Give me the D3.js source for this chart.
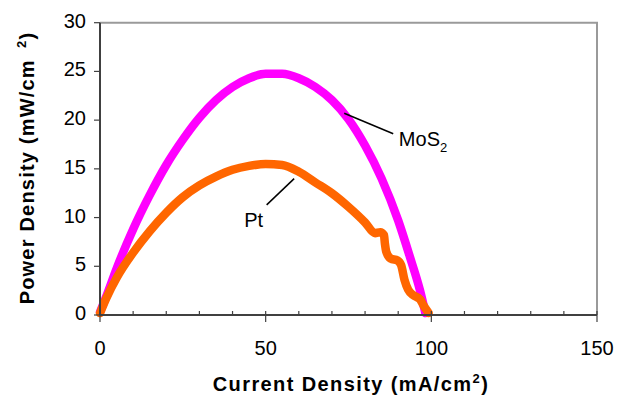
<!DOCTYPE html>
<html>
<head>
<meta charset="utf-8">
<script src="https://cdn.jsdelivr.net/npm/d3@7"></script>
<style>
  body { margin: 0; background: #fff; }
  svg { font-family: "Liberation Sans", Arial, sans-serif; }
</style>
</head>
<body>
<figure id="pdChart" style="margin:0"></figure>
<script>
// values
const mos2Current = [0, 2, 5, 10, 15, 20, 25, 30, 35, 40, 45, 50, 55, 60, 65, 70, 75, 80, 85, 90, 93.5, 96.6, 98.2];
const mos2Power   = [0.3, 2.0, 4.75, 8.8, 12.3, 15.4, 18.0, 20.25, 22.05, 23.4, 24.3, 24.75, 24.75, 24.3, 23.4, 22.05, 20.1, 17.4, 14.0, 9.7, 6.0, 2.5, 0.2];

const ptCurrent = [0, 2, 5, 10, 15, 20, 25, 30, 35, 40, 45, 50, 55, 60, 65, 70, 75, 80, 83, 84.6, 85.7, 86, 86.4, 87.7, 89.8, 90.9, 91.9, 93, 94.5, 96.6, 97.6, 99.2];
const ptPower   = [0.2, 1.8, 3.8, 6.4, 8.6, 10.5, 12.1, 13.3, 14.2, 14.9, 15.3, 15.5, 15.4, 14.7, 13.6, 12.5, 11.1, 9.5, 8.4, 8.5, 8.2, 7.3, 6.5, 5.8, 5.6, 5.1, 3.6, 2.6, 2.05, 1.6, 1.0, 0.2];

const xMajorTicks = [0, 50, 100, 150];
const xMinorTicks = [10, 20, 30, 40, 60, 70, 80, 90, 110, 120, 130, 140];
const yTicks = [0, 5, 10, 15, 20, 25, 30];

const width = 629, height = 396;
const margin = {top: 22.7, right: 32, bottom: 81, left: 100};
const innerW = width - margin.left - margin.right;
const innerH = height - margin.top - margin.bottom;

const svg = d3.select("figure#pdChart")
  .append("svg")
  .attr("width", width)
  .attr("height", height);

const g = svg.append("g")
  .attr("transform", `translate(${margin.left},${margin.top})`);

const xScale = d3.scaleLinear().domain([0, 150]).range([0, innerW]);
const yScale = d3.scaleLinear().domain([0, 30]).range([innerH, 0]);

// plot area border (top and right, grey)
g.append("path")
  .attr("d", `M0,${yScale(30)}H${xScale(150)}V${yScale(0)}`)
  .attr("fill", "none")
  .attr("stroke", "#9a9a9a")
  .attr("stroke-width", 2);

// series
const line = d3.line()
  .x(d => xScale(d[0]))
  .y(d => yScale(d[1]))
  .curve(d3.curveMonotoneX);

const series = [
  {name: "MoS2", color: "#ff00ff", pts: d3.zip(mos2Current, mos2Power)},
  {name: "Pt", color: "#ff6600", pts: d3.zip(ptCurrent, ptPower)}
];

g.selectAll("path.series")
  .data(series)
  .join("path")
  .attr("class", "series")
  .attr("d", d => line(d.pts))
  .attr("fill", "none")
  .attr("stroke", d => d.color)
  .attr("stroke-width", 8.5)
  .attr("stroke-linecap", "round")
  .attr("stroke-linejoin", "round");

// x axis
const xAxis = g.append("g").attr("transform", `translate(0,${innerH})`);
xAxis.append("line")
  .attr("x1", 0).attr("x2", innerW)
  .attr("stroke", "#404040").attr("stroke-width", 2);
xAxis.selectAll("line.minor")
  .data(xMinorTicks)
  .join("line")
  .attr("class", "minor")
  .attr("x1", d => xScale(d)).attr("x2", d => xScale(d))
  .attr("y1", 0).attr("y2", -4)
  .attr("stroke", "#404040").attr("stroke-width", 1.2);
xAxis.selectAll("line.major")
  .data(xMajorTicks)
  .join("line")
  .attr("class", "major")
  .attr("x1", d => xScale(d)).attr("x2", d => xScale(d))
  .attr("y1", -4).attr("y2", 7)
  .attr("stroke", "#404040").attr("stroke-width", 1.2);
xAxis.selectAll("text")
  .data(xMajorTicks)
  .join("text")
  .attr("x", d => xScale(d))
  .attr("y", 40)
  .attr("text-anchor", "middle")
  .attr("font-size", 20)
  .attr("fill", "#000")
  .text(d => d);

// y axis
const yAxis = g.append("g");
yAxis.append("line")
  .attr("y1", 0).attr("y2", innerH)
  .attr("stroke", "#404040").attr("stroke-width", 2);
yAxis.selectAll("line.tick")
  .data(yTicks)
  .join("line")
  .attr("class", "tick")
  .attr("x1", -6).attr("x2", 0)
  .attr("y1", d => yScale(d)).attr("y2", d => yScale(d))
  .attr("stroke", "#404040").attr("stroke-width", 1.2);
yAxis.selectAll("text")
  .data(yTicks)
  .join("text")
  .attr("x", -14)
  .attr("y", d => yScale(d) + 5)
  .attr("text-anchor", "end")
  .attr("font-size", 20)
  .attr("fill", "#000")
  .text(d => d);

// axis titles
const xTitle = svg.append("text")
  .attr("x", 351)
  .attr("y", 391)
  .attr("text-anchor", "middle")
  .attr("font-size", 20)
  .attr("font-weight", "bold")
  .attr("letter-spacing", 1.4)
  .attr("fill", "#000");
xTitle.append("tspan").text("Current Density (mA/cm");
xTitle.append("tspan").attr("font-size", 13).attr("dy", -8).text("2");
xTitle.append("tspan").attr("dy", 8).text(")");

const yTitle = svg.append("text")
  .attr("transform", "translate(34,168) rotate(-90)")
  .attr("text-anchor", "middle")
  .attr("font-size", 20)
  .attr("font-weight", "bold")
  .attr("letter-spacing", 1.2)
  .attr("fill", "#000");
yTitle.append("tspan").text("Power Density (mW/cm\u2002");
yTitle.append("tspan").attr("font-size", 13).attr("dy", -8).text("2");
yTitle.append("tspan").attr("dy", 8).text(")");

// annotations
const notes = [
  {x1: 73.7, y1: 20.7, x2: 88.5, y2: 18.6},
  {x1: 58.6, y1: 14.0, x2: 50.3, y2: 11.3}
];
g.selectAll("line.note")
  .data(notes)
  .join("line")
  .attr("class", "note")
  .attr("x1", d => xScale(d.x1)).attr("y1", d => yScale(d.y1))
  .attr("x2", d => xScale(d.x2)).attr("y2", d => yScale(d.y2))
  .attr("stroke", "#000").attr("stroke-width", 1.5);

const mosLabel = g.append("text")
  .attr("x", xScale(90.2))
  .attr("y", yScale(17.3))
  .attr("font-size", 20)
  .attr("fill", "#000");
mosLabel.append("tspan").text("MoS");
mosLabel.append("tspan").attr("font-size", 13).attr("dy", 6).text("2");

g.append("text")
  .attr("x", xScale(43.5))
  .attr("y", yScale(9.0))
  .attr("font-size", 20)
  .attr("fill", "#000")
  .text("Pt");
</script>
</body>
</html>
